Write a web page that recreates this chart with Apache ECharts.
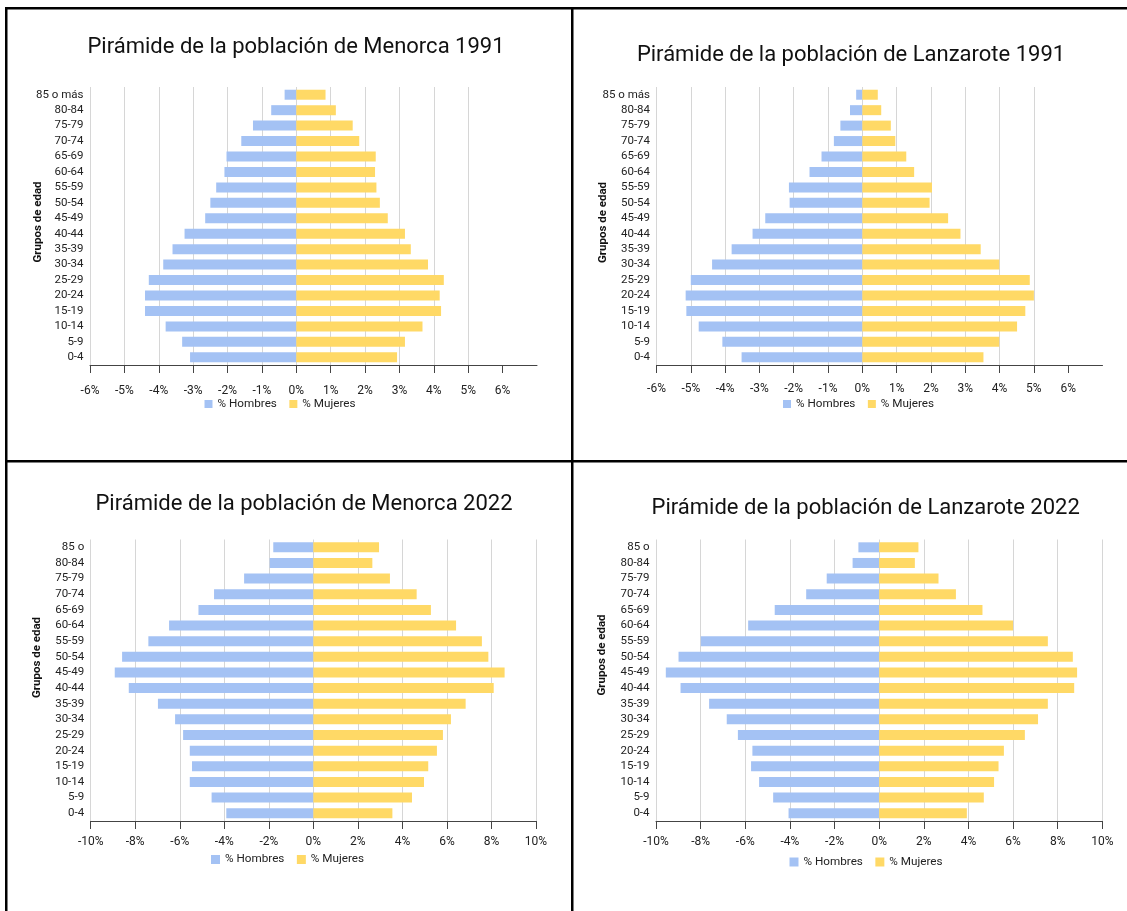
<!DOCTYPE html>
<html>
<head>
<meta charset="utf-8">
<script src="https://cdn.jsdelivr.net/npm/echarts@6/dist/echarts.min.js"></script>
<style>
html,body{margin:0;padding:0;background:#fff;}
#c{width:1127px;height:911px;}
</style>
</head>
<body>
<div id="c"></div>
<script>
// ---------- DATA ----------
const ageGroups1991 = ['0-4','5-9','10-14','15-19','20-24','25-29','30-34','35-39','40-44','45-49','50-54','55-59','60-64','65-69','70-74','75-79','80-84','85 o más'];
const ageGroups2022 = ['0-4','5-9','10-14','15-19','20-24','25-29','30-34','35-39','40-44','45-49','50-54','55-59','60-64','65-69','70-74','75-79','80-84','85 o'];

const menorca1991Hombres = [-3.09,-3.32,-3.80,-4.40,-4.40,-4.29,-3.87,-3.60,-3.25,-2.65,-2.50,-2.33,-2.09,-2.03,-1.60,-1.26,-0.73,-0.34];
const menorca1991Mujeres = [2.93,3.16,3.67,4.21,4.17,4.29,3.83,3.33,3.16,2.66,2.43,2.33,2.29,2.31,1.83,1.64,1.15,0.85];

const lanzarote1991Hombres = [-3.52,-4.08,-4.77,-5.13,-5.15,-5.00,-4.38,-3.81,-3.20,-2.83,-2.12,-2.14,-1.54,-1.19,-0.83,-0.64,-0.36,-0.18];
const lanzarote1991Mujeres = [3.53,3.99,4.51,4.75,5.00,4.88,3.99,3.45,2.86,2.50,1.96,2.03,1.51,1.28,0.96,0.83,0.55,0.45];

const menorca2022Hombres = [-3.91,-4.57,-5.55,-5.45,-5.55,-5.85,-6.21,-6.98,-8.29,-8.92,-8.59,-7.41,-6.48,-5.16,-4.46,-3.11,-1.96,-1.80];
const menorca2022Mujeres = [3.55,4.43,4.97,5.16,5.55,5.82,6.18,6.84,8.10,8.59,7.86,7.57,6.41,5.28,4.64,3.44,2.65,2.95];

const lanzarote2022Hombres = [-4.06,-4.75,-5.38,-5.74,-5.68,-6.33,-6.83,-7.62,-8.90,-9.56,-8.99,-7.99,-5.87,-4.68,-3.27,-2.35,-1.19,-0.93];
const lanzarote2022Mujeres = [3.93,4.69,5.15,5.35,5.59,6.53,7.12,7.56,8.74,8.87,8.68,7.56,6.00,4.63,3.44,2.66,1.60,1.76];

const xTicks1991 = [-6,-5,-4,-3,-2,-1,0,1,2,3,4,5,6];
const xTicks2022 = [-10,-8,-6,-4,-2,0,2,4,6,8,10];

const seriesNames = ['% Hombres','% Mujeres'];
const titles = [
  'Pirámide de la población de Menorca 1991',
  'Pirámide de la población de Lanzarote 1991',
  'Pirámide de la población de Menorca 2022',
  'Pirámide de la población de Lanzarote 2022'
];
const yAxisTitle = 'Grupos de edad';

// ---------- STYLE / LAYOUT ----------
const FONT = 'Roboto, "Noto Sans", "DejaVu Sans", sans-serif';
const BLUE = '#a4c2f4';
const YELLOW = '#ffd966';

const panels = [
  {cats: ageGroups1991, men: menorca1991Hombres, women: menorca1991Mujeres, ticks: xTicks1991,
   min: -6, max: 7, interval: 1, hideMax: true,
   grid: {left: 90, top: 87, width: 447, height: 278}, labelMargin: 19.5,
   title: {x: 296, y: 47.5}, yname: {x: 38.5, y: 222},
   legend: {left: 204.5, top: 398, icon: 8}},
  {cats: ageGroups1991, men: lanzarote1991Hombres, women: lanzarote1991Mujeres, ticks: xTicks1991,
   min: -6, max: 7, interval: 1, hideMax: true,
   grid: {left: 656.5, top: 87, width: 446, height: 278}, labelMargin: 17.5,
   title: {x: 851, y: 55}, yname: {x: 603, y: 222.5},
   legend: {left: 783, top: 398, icon: 8}},
  {cats: ageGroups2022, men: menorca2022Hombres, women: menorca2022Mujeres, ticks: xTicks2022,
   min: -10, max: 10, interval: 2, hideMax: false,
   grid: {left: 90.7, top: 539.5, width: 445.3, height: 281.5}, labelMargin: 15,
   title: {x: 304, y: 504.5}, yname: {x: 37.6, y: 657.5},
   legend: {left: 211, top: 853.5, icon: 9}},
  {cats: ageGroups2022, men: lanzarote2022Hombres, women: lanzarote2022Mujeres, ticks: xTicks2022,
   min: -10, max: 10, interval: 2, hideMax: false,
   grid: {left: 656, top: 539.5, width: 446.3, height: 281.5}, labelMargin: 15,
   title: {x: 865.7, y: 508.7}, yname: {x: 602, y: 655},
   legend: {left: 789.5, top: 856, icon: 9}}
];

const option = {
  animation: false,
  backgroundColor: '#fff',
  textStyle: {fontFamily: FONT},
  grid: [], xAxis: [], yAxis: [], series: [], legend: [], graphic: []
};

panels.forEach((p, i) => {
  option.grid.push(Object.assign({containLabel: false}, p.grid));
  option.xAxis.push({
    type: 'value', gridIndex: i, min: p.min, max: p.max, interval: p.interval,
    axisLine: {show: true, onZero: false, lineStyle: {color: '#444', width: 1}},
    axisTick: {show: true, length: 8, customValues: p.ticks, lineStyle: {color: '#444'}},
    axisLabel: {customValues: p.ticks, formatter: v => v + '%', color: '#222', fontSize: 12,
                fontFamily: FONT, margin: p.labelMargin},
    splitLine: {show: true, showMaxLine: !p.hideMax, lineStyle: {color: '#d6d6d6', width: 1}}
  });
  option.yAxis.push({
    type: 'category', gridIndex: i, data: p.cats, boundaryGap: true,
    axisLine: {show: false}, axisTick: {show: false},
    axisLabel: {interval: 0, color: '#222', fontSize: 11.5, fontFamily: FONT, margin: 6.5}
  });
  option.series.push({
    name: seriesNames[0], type: 'bar', xAxisIndex: i, yAxisIndex: i, stack: 'p' + i,
    data: p.men, barWidth: 10, itemStyle: {color: BLUE}
  });
  option.series.push({
    name: seriesNames[1], type: 'bar', xAxisIndex: i, yAxisIndex: i, stack: 'p' + i,
    data: p.women, barWidth: 10, itemStyle: {color: YELLOW}
  });
  option.legend.push({
    left: p.legend.left, top: p.legend.top, orient: 'horizontal', padding: 0,
    data: seriesNames, icon: 'rect', itemWidth: p.legend.icon, itemHeight: p.legend.icon,
    itemGap: 12.5, selectedMode: false,
    textStyle: {color: '#222', fontSize: 11.7, fontFamily: FONT}
  });
  option.graphic.push({
    type: 'text', x: p.title.x, y: p.title.y, silent: true,
    style: {text: titles[i], font: '22px ' + FONT, fill: '#111', textAlign: 'center', textVerticalAlign: 'middle'}
  });
  option.graphic.push({
    type: 'text', x: p.yname.x, y: p.yname.y, rotation: Math.PI / 2, silent: true,
    style: {text: yAxisTitle, font: 'bold 11.5px ' + FONT, fill: '#111', textAlign: 'center', textVerticalAlign: 'middle'}
  });
});

// frame lines
const frame = [
  {x: 5, y: 7, width: 1122, height: 2.5},
  {x: 5, y: 7, width: 2.5, height: 904},
  {x: 571, y: 7, width: 2.5, height: 904},
  {x: 5, y: 460, width: 1122, height: 2.5}
];
frame.forEach(r => option.graphic.push({type: 'rect', silent: true, shape: r, style: {fill: '#000'}}));

const chart = echarts.init(document.getElementById('c'), null, {renderer: 'canvas'});
chart.setOption(option);
</script>
</body>
</html>
